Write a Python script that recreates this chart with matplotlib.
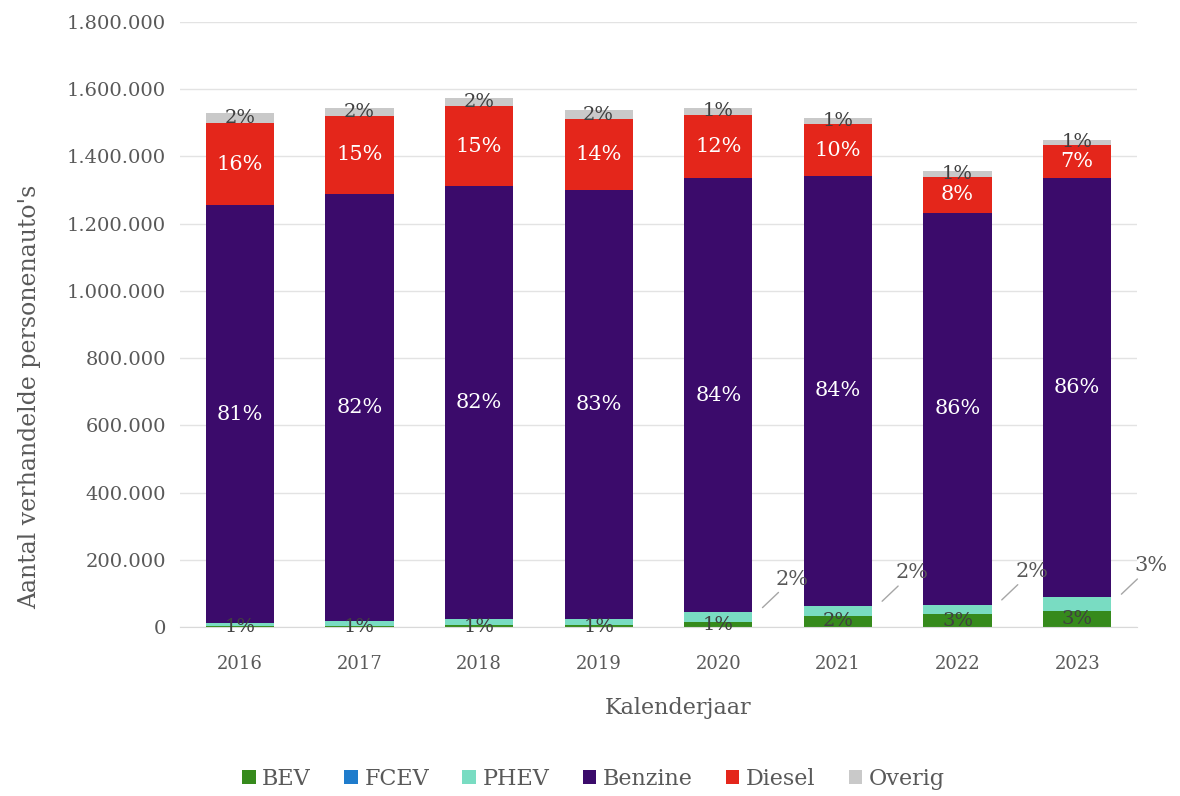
import matplotlib.pyplot as plt
import numpy as np
from matplotlib.ticker import FuncFormatter

plt.rcParams['font.family'] = ['DejaVu Serif']

years = ['2016', '2017', '2018', '2019', '2020', '2021', '2022', '2023']

# aantallen (x1000)
bev = [3, 4, 5, 7, 14, 33, 38, 48]
fcev = [0.1, 0.1, 0.1, 0.1, 0.2, 0.2, 0.2, 0.2]
phev = [10, 15, 18, 17, 30, 30, 28, 42]
benzine = [1241, 1270, 1288, 1276, 1292, 1278, 1166, 1246]
diesel = [246, 232, 238, 211, 187, 155, 108, 98]
overig = [30, 24, 25, 27, 21, 17, 15, 15]

names = ['BEV', 'FCEV', 'PHEV', 'Benzine', 'Diesel', 'Overig']
colors = ['#368a1c', '#1f7ccc', '#79dcc2', '#3b0b6b', '#e4261b', '#c9c9c9']

series = [np.array(s) * 1000 for s in [bev, fcev, phev, benzine, diesel, overig]]
total = sum(series)

fig = plt.figure(figsize=(11.8, 7.96), dpi=100)
ax = fig.add_axes([0.1525, 0.2123, 0.8111, 0.7601])

x = np.arange(len(years))
w = 0.57
bottom = np.zeros(len(years))
for name, vals, c in zip(names, series, colors):
    ax.bar(x, vals, w, bottom=bottom, color=c, label=name, zorder=2)
    bottom = bottom + vals

# labels
cum = np.cumsum(series, axis=0)
for i in range(len(years)):
    pct = [round(s[i] / total[i] * 100) for s in series]
    # benzine & diesel (wit)
    for k in (3, 4):
        yc = cum[k][i] - series[k][i] / 2
        ax.text(x[i], yc, f'{pct[k]}%', ha='center', va='center', color='white', fontsize=15, zorder=3)
    # overig
    yc = cum[5][i] - series[5][i] / 2
    ax.text(x[i], yc, f'{pct[5]}%', ha='center', va='center', color='#404040', fontsize=14, zorder=3)
    # BEV
    if pct[0] >= 1:
        ax.text(x[i], series[0][i] / 2, f'{pct[0]}%', ha='center', va='center', color='#404040', fontsize=14, zorder=3)
        # PHEV met lijntje
        yc = cum[2][i] - series[2][i] / 2
        ax.annotate(f'{pct[2]}%', xy=(x[i] + w / 2, yc), xytext=(40, 38), textcoords='offset pixels',
                    ha='center', va='center', color='#595959', fontsize=15, zorder=3,
                    arrowprops=dict(arrowstyle='-', color='#a6a6a6', lw=1, shrinkA=1, shrinkB=10))
    else:
        ax.text(x[i], 0, f'{pct[2]}%', ha='center', va='center', color='#404040', fontsize=14, zorder=3)

ax.set_ylim(0, 1800000)
ax.set_xlim(-0.5, len(years) - 0.5)
ax.set_yticks(np.arange(0, 1800001, 200000))
ax.yaxis.set_major_formatter(FuncFormatter(lambda v, p: f'{int(v):,}'.replace(',', '.')))
ax.set_xticks(x)
ax.set_xticklabels(years)
ax.tick_params(axis='y', length=0, labelsize=14, colors='#595959', pad=10)
ax.tick_params(axis='x', length=0, labelsize=13, colors='#595959', pad=20)
ax.grid(axis='y', color='#e3e3e3', lw=1, zorder=0)
for s in ['top', 'right', 'left']:
    ax.spines[s].set_visible(False)
ax.spines['bottom'].set_color('#d9d9d9')

ax.set_xlabel('Kalenderjaar', fontsize=16, color='#595959')
ax.set_ylabel("Aantal verhandelde personenauto's", fontsize=17, color='#595959')
ax.yaxis.set_label_coords(-0.145, 0.38)
ax.xaxis.set_label_coords(0.52, -0.115)

ax.legend(loc='upper center', bbox_to_anchor=(0.432, -0.2), ncol=6, frameon=False,
          fontsize=16, labelcolor='#595959', handlelength=0.6, handleheight=0.6,
          handletextpad=0.3, columnspacing=1.5)

fig.savefig('out.png', dpi=100, facecolor='white')
